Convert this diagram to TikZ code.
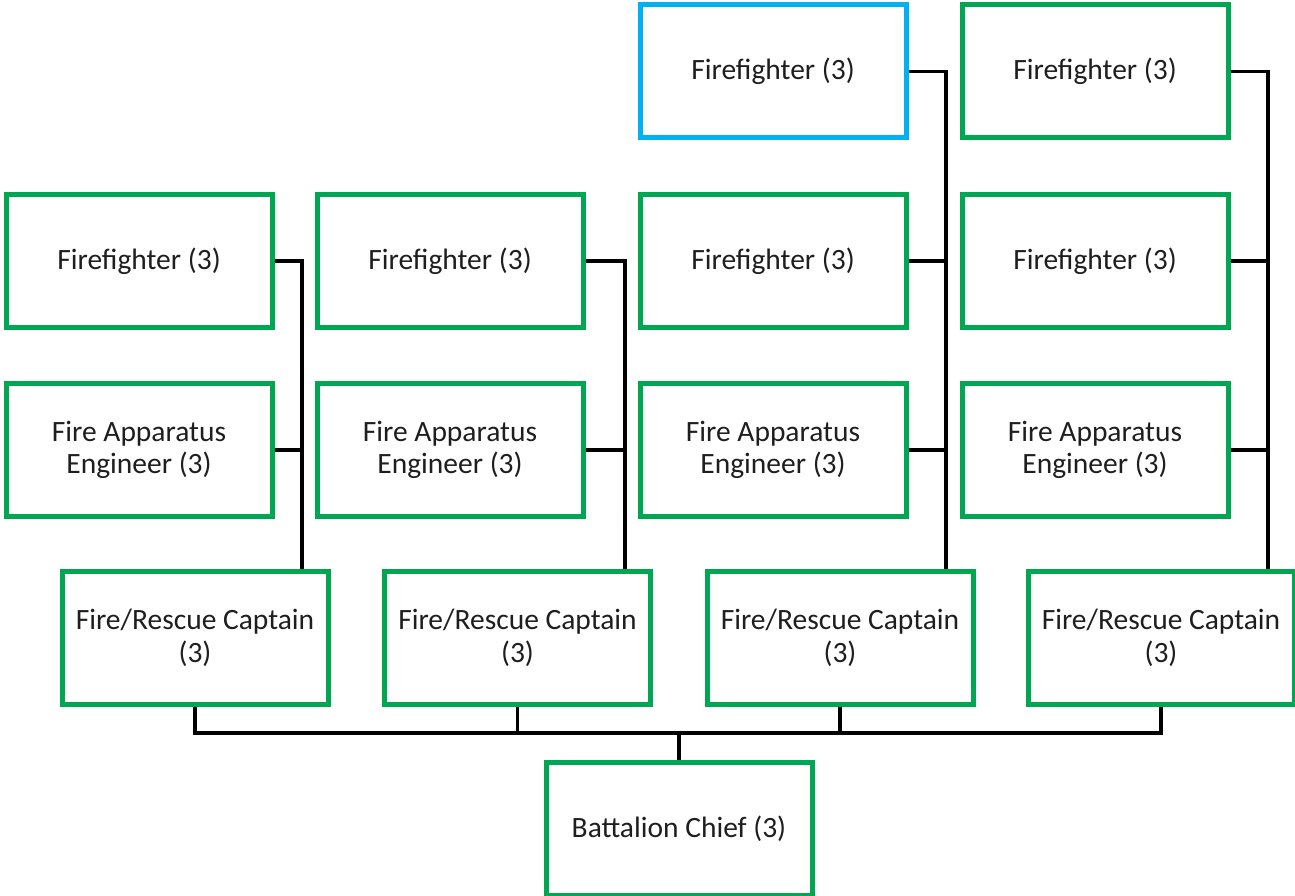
\documentclass[tikz,border=0pt]{standalone}
\usepackage{fontspec}
\setmainfont{Carlito}
\definecolor{boxgreen}{RGB}{0,166,81}
\definecolor{boxblue}{RGB}{0,176,240}
\definecolor{txt}{RGB}{30,30,30}
\tikzset{
  role/.style={draw=boxgreen, line width=5pt, minimum width=266pt, minimum height=133pt,
    inner sep=0pt, align=center, text=txt, font=\fontsize{29.5}{32.5}\selectfont},
  rolecur/.style={role, draw=boxblue},
  link/.style={draw=black, line width=3.5pt}
}
\begin{document}
\begin{tikzpicture}[x=1pt, y=-1pt]
\useasboundingbox (0,0) rectangle (1295,896);

% vertical trunk positions and the horizontal bus
\coordinate (v1) at (302,0);
\coordinate (v2) at (625,0);
\coordinate (v3) at (946,0);
\coordinate (v4) at (1268,0);
\coordinate (bus) at (0,733);

% top row
\node[rolecur] (f13) at (773,71.5) {Firefighter (3)};
\node[role]    (f14) at (1095,71.5) {Firefighter (3)};
% second row
\node[role] (f21) at (139,261) {Firefighter (3)};
\node[role] (f22) at (450,261) {Firefighter (3)};
\node[role] (f23) at (773,261) {Firefighter (3)};
\node[role] (f24) at (1095,261) {Firefighter (3)};
% engineers
\node[role] (e1) at (139,450) {Fire Apparatus\\Engineer (3)};
\node[role] (e2) at (450,450) {Fire Apparatus\\Engineer (3)};
\node[role] (e3) at (773,450) {Fire Apparatus\\Engineer (3)};
\node[role] (e4) at (1095,450) {Fire Apparatus\\Engineer (3)};
% captains
\node[role] (c1) at (195,638) {Fire/Rescue Captain\\(3)};
\node[role] (c2) at (517.5,638) {Fire/Rescue Captain\\(3)};
\node[role] (c3) at (840,638) {Fire/Rescue Captain\\(3)};
\node[role] (c4) at (1161,638) {Fire/Rescue Captain\\(3)};
% chief
\node[role] (bc) at (679,828.5) {Battalion Chief (3)};

% column 1
\draw[link] (f21.east) -| (v1 |- c1.north);
\draw[link] (e1.east) -- (e1.east -| v1);
% column 2
\draw[link] (f22.east) -| (v2 |- c2.north);
\draw[link] (e2.east) -- (e2.east -| v2);
% column 3
\draw[link] (f13.east) -| (v3 |- c3.north);
\draw[link] (f23.east) -- (f23.east -| v3);
\draw[link] (e3.east) -- (e3.east -| v3);
% column 4
\draw[link] (f14.east) -| (v4 |- c4.north);
\draw[link] (f24.east) -- (f24.east -| v4);
\draw[link] (e4.east) -- (e4.east -| v4);
% captains to chief
\draw[link] (c1.south) -- (c1.south |- bus) -- (c4.south |- bus) -- (c4.south);
\draw[link] (c2.south) -- (c2.south |- bus);
\draw[link] (c3.south) -- (c3.south |- bus);
\draw[link] (bc.north) -- (bc.north |- bus);
\end{tikzpicture}
\end{document}
